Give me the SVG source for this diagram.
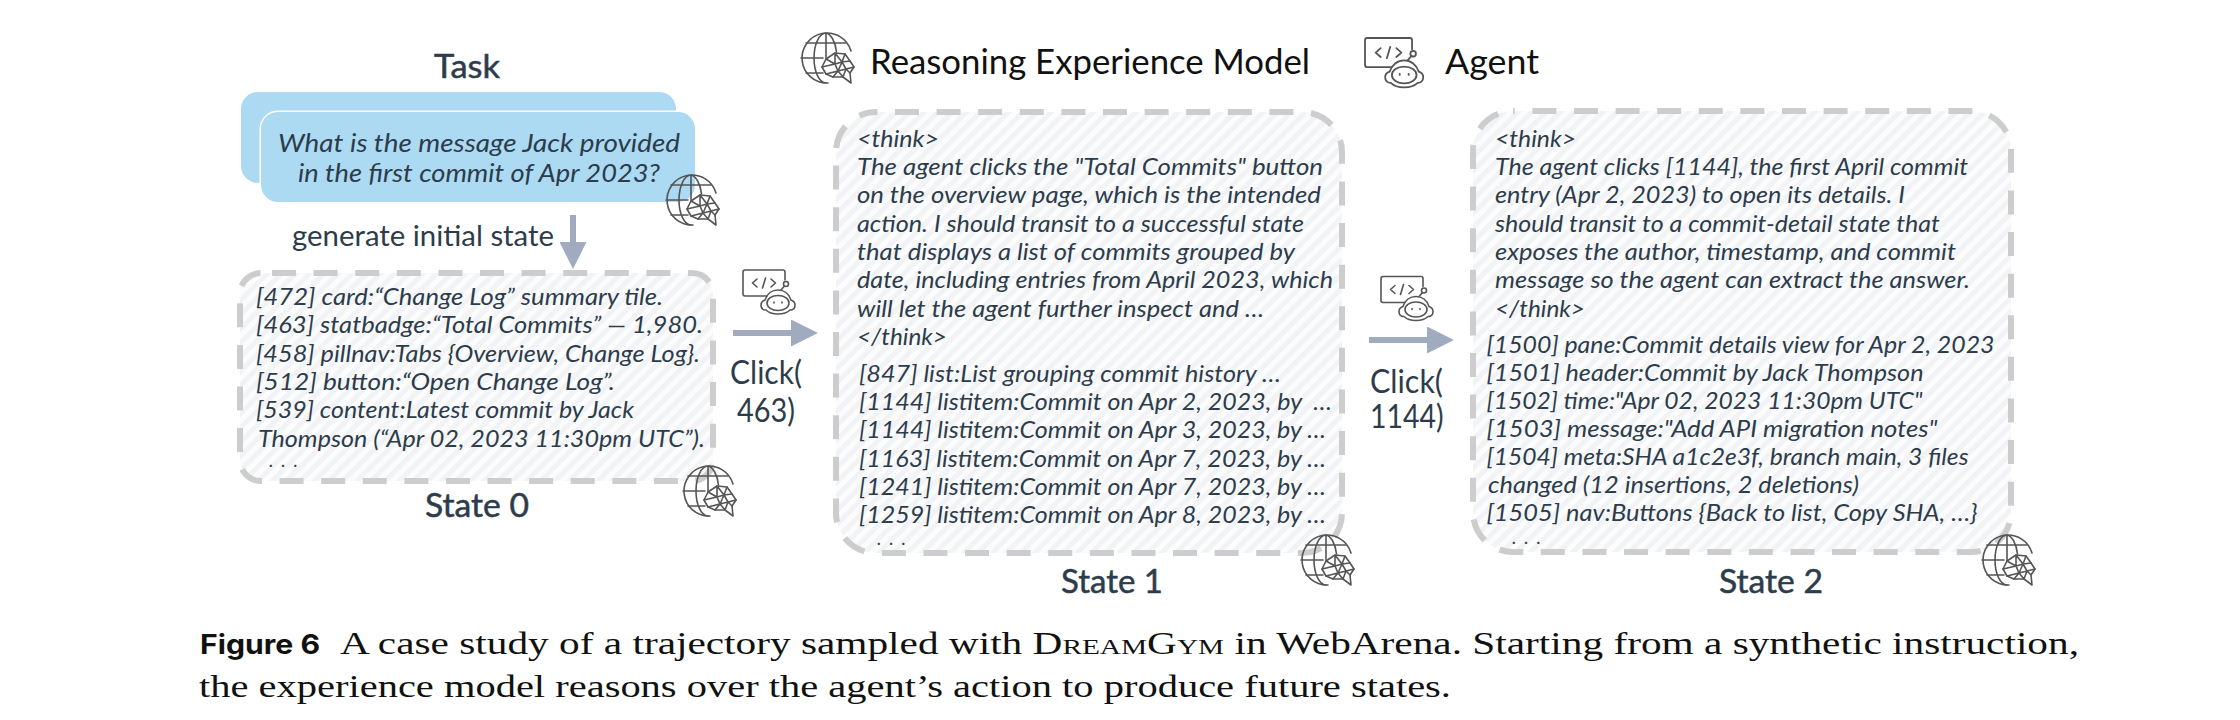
<svg xmlns="http://www.w3.org/2000/svg" width="2240" height="720" viewBox="0 0 2240 720">
<style>
text{font-family:"Lato","Open Sans","Liberation Sans",sans-serif;fill:#2d3c4b;white-space:pre}
.b{font-size:23px;font-style:italic}
.t{font-size:25px;font-style:italic}
.h{font-size:34px;fill:#111}
.s{font-size:32px;stroke:#2d3c4b;stroke-width:.5px}
.l{font-size:28px}
.c{font-size:33px}
.d{font-size:15px;font-weight:700}
.box{fill:url(#hatch);stroke:#cdcdcd;stroke-width:6;stroke-dasharray:24 17.6}
.task{fill:#acdaf2}
.arr{stroke:#a0abc0;stroke-width:6;fill:none;marker-end:url(#head)}
.cap{font-family:"Liberation Serif","Times New Roman",serif;font-size:31px;fill:#111}
.capb{font-family:"Inter","Liberation Sans",sans-serif;font-size:27px;font-weight:700;fill:#111}
.ic{fill:none;stroke:#555;stroke-width:1.6;stroke-linecap:round;stroke-linejoin:round}
</style>
<defs>
<pattern id="hatch" width="10" height="10" patternUnits="userSpaceOnUse" patternTransform="rotate(45)">
<rect width="10" height="10" fill="#fcfcfd"/><rect width="5" height="10" fill="#f1f3f6"/>
</pattern>
<marker id="head" markerUnits="userSpaceOnUse" markerWidth="27" markerHeight="27" refX="0" refY="13.5" orient="auto">
<path d="M0 0L27 13.5L0 27Z" fill="#a0abc0"/>
</marker>
<g id="globe" class="ic">
<path d="M25 -7A25 25 0 1 0 2 25"/>
<path d="M0 -25A12 25 0 0 0 0 25M0 -25A12 25 0 0 1 10.500 -6M0 -25V0M-20 -15H20M-25 0H-3M-20 15H-3"/>
<path d="M-4 9L0 1L9 -5L19 -4L24 3L28 9L24 15L25 25L17 19L7 19L0 16Z"/>
<path d="M0 1L9 6L9 -5L16 4L19 -4M16 4L24 3M16 4L20 11L28 9M20 11L24 15M20 11L17 19M20 11L12 13L17 19M12 13L7 19M12 13L0 16M12 13L9 6L-4 9M9 6L16 4L12 13"/>
</g>
<g id="agent" class="ic">
<path d="M24 26H2A2 2 0 0 1 0 24V2A2 2 0 0 1 2 0H40A2 2 0 0 1 42 2V10"/>
<path d="M14 9L9.500 13L14 17M22.500 8L19.500 18M28 9L32.500 13L28 17"/>
<circle cx="43" cy="14" r="2.500"/>
<path d="M41.500 16L38 20"/>
<path d="M22 30C24 24 29 20 35 20C41 20 46 24 48 30C51 31 52 33 52 35C52 38 50 40 47 40C44 43 40 44 35 44C30 44 26 43 23 40C20 40 18 38 18 35C18 33 19 31 22 30Z"/>
<ellipse cx="35" cy="33" rx="11" ry="7.500"/>
<path d="M31 32V33M39 32V33"/>
</g>
</defs>
<rect width="2240" height="720" fill="#fff"/>

<g id="header">
<text class="s" x="434" y="78" textLength="66" lengthAdjust="spacingAndGlyphs">Task</text>
<use href="#globe" x="826" y="58"/>
<text class="h" x="870" y="74" textLength="440" lengthAdjust="spacingAndGlyphs">Reasoning Experience Model</text>
<use href="#agent" transform="translate(1365 38) scale(1.12)"/>
<text class="h" x="1445" y="74" textLength="94" lengthAdjust="spacingAndGlyphs">Agent</text>
</g>

<g id="task">
<rect class="task" x="241" y="92" width="435" height="91" rx="17"/>
<rect class="task" x="261" y="112" width="434" height="90" rx="17" stroke="#fff" stroke-width="3" paint-order="stroke"/>
<text class="t" x="278" y="152" textLength="402" lengthAdjust="spacingAndGlyphs">What is the message Jack provided</text>
<text class="t" x="298" y="182" textLength="362" lengthAdjust="spacingAndGlyphs">in the first commit of Apr 2023?</text>
<use href="#globe" x="691" y="200"/>
</g>

<g id="state0">
<rect class="box" x="240" y="273" width="473" height="208" rx="21" stroke-dashoffset="-11"/>
<text class="b" x="256" y="305" textLength="407" lengthAdjust="spacingAndGlyphs">[472] card:“Change Log” summary tile.</text>
<text class="b" x="256" y="333" textLength="447" lengthAdjust="spacingAndGlyphs">[463] statbadge:“Total Commits” — 1,980.</text>
<text class="b" x="256" y="362" textLength="444" lengthAdjust="spacingAndGlyphs">[458] pillnav:Tabs {Overview, Change Log}.</text>
<text class="b" x="256" y="390" textLength="359" lengthAdjust="spacingAndGlyphs">[512] button:“Open Change Log”.</text>
<text class="b" x="256" y="418" textLength="378" lengthAdjust="spacingAndGlyphs">[539] content:Latest commit by Jack</text>
<text class="b" x="258" y="447" textLength="447" lengthAdjust="spacingAndGlyphs">Thompson (“Apr 02, 2023 11:30pm UTC”).</text>
<text class="d" x="269" y="467" textLength="28">...</text>
<text class="s" x="425" y="517" textLength="104" lengthAdjust="spacingAndGlyphs">State 0</text>
<use href="#globe" x="708" y="491"/>
</g>

<g id="state1">
<rect class="box" x="836" y="112" width="506" height="441" rx="40" stroke-dashoffset="-19"/>
<text class="b" x="857" y="147" textLength="82" lengthAdjust="spacingAndGlyphs">&lt;think&gt;</text>
<text class="b" x="857" y="175" textLength="466" lengthAdjust="spacingAndGlyphs">The agent clicks the "Total Commits" button</text>
<text class="b" x="857" y="203" textLength="464" lengthAdjust="spacingAndGlyphs">on the overview page, which is the intended</text>
<text class="b" x="857" y="232" textLength="447" lengthAdjust="spacingAndGlyphs">action. I should transit to a successful state</text>
<text class="b" x="857" y="260" textLength="438" lengthAdjust="spacingAndGlyphs">that displays a list of commits grouped by</text>
<text class="b" x="857" y="288" textLength="476" lengthAdjust="spacingAndGlyphs">date, including entries from April 2023, which</text>
<text class="b" x="857" y="317" textLength="407" lengthAdjust="spacingAndGlyphs">will let the agent further inspect and …</text>
<text class="b" x="857" y="345" textLength="90" lengthAdjust="spacingAndGlyphs">&lt;/think&gt;</text>
<text class="b" x="859" y="382" textLength="422" lengthAdjust="spacingAndGlyphs">[847] list:List grouping commit history …</text>
<text class="b" x="859" y="410" textLength="473" lengthAdjust="spacingAndGlyphs">[1144] listitem:Commit on Apr 2, 2023, by  …</text>
<text class="b" x="859" y="438" textLength="467" lengthAdjust="spacingAndGlyphs">[1144] listitem:Commit on Apr 3, 2023, by …</text>
<text class="b" x="859" y="467" textLength="467" lengthAdjust="spacingAndGlyphs">[1163] listitem:Commit on Apr 7, 2023, by …</text>
<text class="b" x="859" y="495" textLength="467" lengthAdjust="spacingAndGlyphs">[1241] listitem:Commit on Apr 7, 2023, by …</text>
<text class="b" x="859" y="523" textLength="467" lengthAdjust="spacingAndGlyphs">[1259] listitem:Commit on Apr 8, 2023, by …</text>
<text class="d" x="877" y="545" textLength="28">...</text>
<text class="s" x="1061" y="593" textLength="102" lengthAdjust="spacingAndGlyphs">State 1</text>
<use href="#globe" x="1326" y="560"/>
</g>

<g id="state2">
<rect class="box" x="1473" y="111" width="538" height="441" rx="40" stroke-dashoffset="-19.400"/>
<text class="b" x="1495" y="147" textLength="81" lengthAdjust="spacingAndGlyphs">&lt;think&gt;</text>
<text class="b" x="1495" y="175" textLength="473" lengthAdjust="spacingAndGlyphs">The agent clicks [1144], the first April commit</text>
<text class="b" x="1495" y="203" textLength="410" lengthAdjust="spacingAndGlyphs">entry (Apr 2, 2023) to open its details. I</text>
<text class="b" x="1495" y="232" textLength="445" lengthAdjust="spacingAndGlyphs">should transit to a commit-detail state that</text>
<text class="b" x="1495" y="260" textLength="461" lengthAdjust="spacingAndGlyphs">exposes the author, timestamp, and commit</text>
<text class="b" x="1495" y="288" textLength="475" lengthAdjust="spacingAndGlyphs">message so the agent can extract the answer.</text>
<text class="b" x="1495" y="317" textLength="90" lengthAdjust="spacingAndGlyphs">&lt;/think&gt;</text>
<text class="b" x="1486.500" y="353" textLength="508" lengthAdjust="spacingAndGlyphs">[1500] pane:Commit details view for Apr 2, 2023</text>
<text class="b" x="1486.500" y="381" textLength="437" lengthAdjust="spacingAndGlyphs">[1501] header:Commit by Jack Thompson</text>
<text class="b" x="1486.500" y="409" textLength="436" lengthAdjust="spacingAndGlyphs">[1502] time:"Apr 02, 2023 11:30pm UTC"</text>
<text class="b" x="1486.500" y="437" textLength="451" lengthAdjust="spacingAndGlyphs">[1503] message:"Add API migration notes"</text>
<text class="b" x="1486.500" y="465" textLength="482" lengthAdjust="spacingAndGlyphs">[1504] meta:SHA a1c2e3f, branch main, 3 files</text>
<text class="b" x="1488" y="493" textLength="371" lengthAdjust="spacingAndGlyphs">changed (12 insertions, 2 deletions)</text>
<text class="b" x="1486.500" y="521" textLength="491" lengthAdjust="spacingAndGlyphs">[1505] nav:Buttons {Back to list, Copy SHA, …}</text>
<text class="d" x="1512" y="544" textLength="28">...</text>
<text class="s" x="1719" y="593" textLength="104" lengthAdjust="spacingAndGlyphs">State 2</text>
<use href="#globe" x="2007" y="560"/>
</g>

<g id="connectors">
<line class="arr" x1="573" y1="215" x2="573" y2="242"/>
<line class="arr" x1="733" y1="333" x2="791" y2="333"/>
<line class="arr" x1="1369" y1="340" x2="1427" y2="340"/>
</g>

<g id="labels">
<text class="l" x="292" y="246" textLength="262" lengthAdjust="spacingAndGlyphs">generate initial state</text>
<use href="#agent" x="743" y="270"/>
<text class="c" x="730" y="384" textLength="72" lengthAdjust="spacingAndGlyphs">Click(</text>
<text class="c" x="737" y="422" textLength="58" lengthAdjust="spacingAndGlyphs">463)</text>
<use href="#agent" x="1381" y="276.500"/>
<text class="c" x="1370" y="393" textLength="73" lengthAdjust="spacingAndGlyphs">Click(</text>
<text class="c" x="1370" y="428" textLength="73.500" lengthAdjust="spacingAndGlyphs">1144)</text>
</g>

<g id="caption">
<text class="capb" x="200" y="654" textLength="120" lengthAdjust="spacingAndGlyphs">Figure 6</text>
<text class="cap" x="340" y="654" textLength="1739" lengthAdjust="spacingAndGlyphs">A case study of a trajectory sampled with <tspan style="font-variant:small-caps">DreamGym</tspan> in WebArena. Starting from a synthetic instruction,</text>
<text class="cap" x="199" y="697" textLength="1252" lengthAdjust="spacingAndGlyphs">the experience model reasons over the agent’s action to produce future states.</text>
</g>
</svg>
